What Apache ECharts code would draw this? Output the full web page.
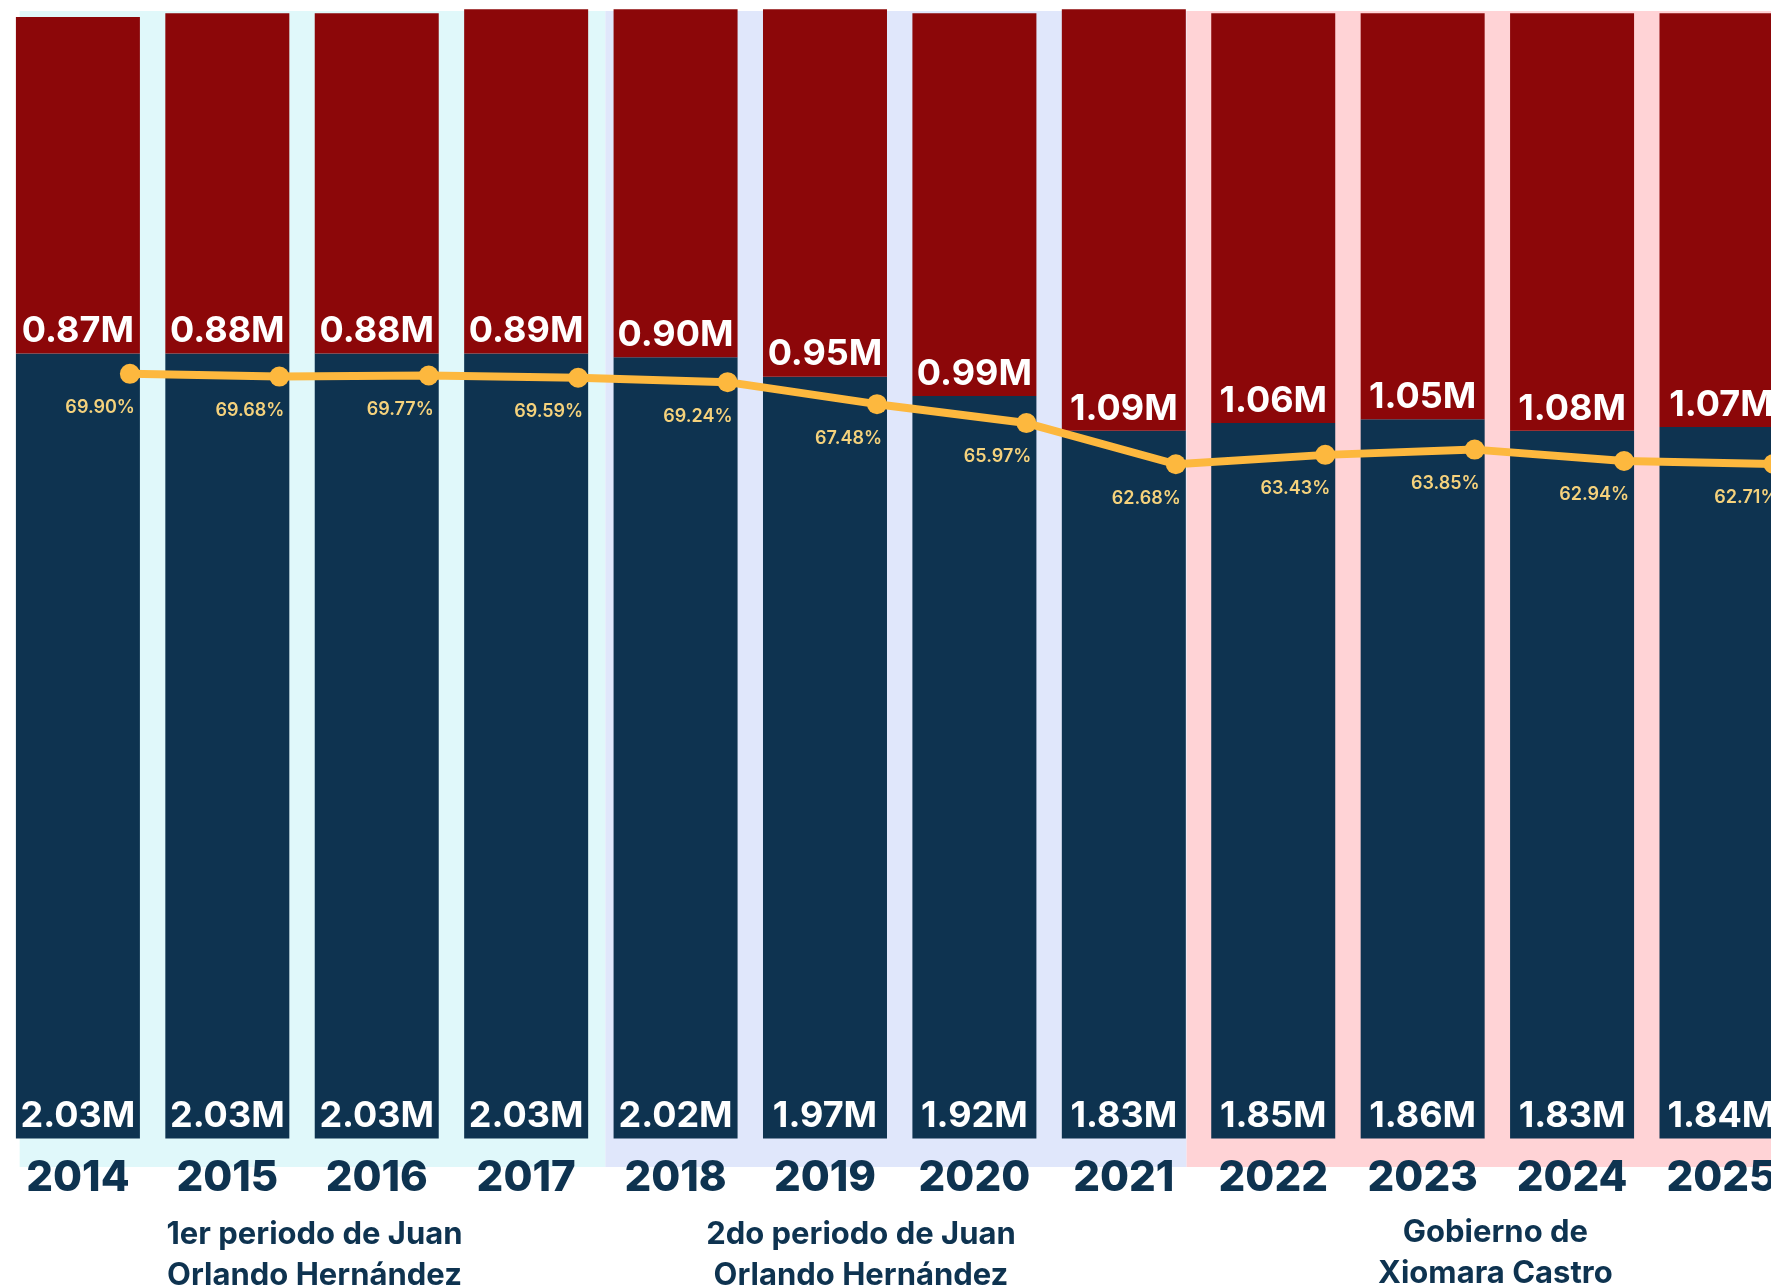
<!DOCTYPE html>
<html><head><meta charset="utf-8">
<script src="https://cdn.jsdelivr.net/npm/echarts@6/dist/echarts.min.js"></script>
<style>html,body{margin:0;padding:0;background:#fff;overflow:hidden;width:1771px;height:1286px}#c{width:1880px;height:1286px}</style>
</head><body><div id="c"></div>
<script>
// ---- data ----
const years = ['2014','2015','2016','2017','2018','2019','2020','2021','2022','2023','2024','2025'];
const ocupados = [2.03,2.03,2.03,2.03,2.02,1.97,1.92,1.83,1.85,1.86,1.83,1.84];
const noOcupados = [0.87,0.88,0.88,0.89,0.90,0.95,0.99,1.09,1.06,1.05,1.08,1.07];
const tasa = [69.90,69.68,69.77,69.59,69.24,67.48,65.97,62.68,63.43,63.85,62.94,62.71];
const periodNames = ['1er periodo de Juan\nOrlando Hernández','2do periodo de Juan\nOrlando Hernández','Gobierno de\nXiomara Castro'];
const periodStart = [2013.61, 2017.53, 2021.42];
const periodEnd = [2017.53, 2021.42, 2025.6];

// ---- styles ----
const NAVY = '#0E3350', RED = '#8C0709', GOLD = '#FDB83E', PCT = '#F5D27C';
const shade = ['#E0F8FA', '#E0E7FB', '#FFD3D6'];
const labelOffsets = [[2,1],[-35,1],[4,-1]];
const FONT = 'Inter';
const GRID_L = 3.2, GRID_W = 1793, BASE_BOTTOM = 147.5;

const chart = echarts.init(document.getElementById('c'), null, {renderer:'canvas'});
const option = {
  animation: false,
  backgroundColor: '#ffffff',
  grid: [
    {left: GRID_L, width: GRID_W, top: 0, bottom: BASE_BOTTOM},
    {left: GRID_L + 52, width: GRID_W, top: 0, bottom: BASE_BOTTOM},
    {left: GRID_L, width: GRID_W, top: 11, bottom: 119}
  ],
  xAxis: [
    {type:'category', gridIndex:0, data: years, z: 10, axisLine:{show:false}, axisTick:{show:false},
     axisLabel:{color: NAVY, fontFamily: FONT, fontWeight: 800, fontSize: 42, margin: 19, interval: 0}},
    {type:'category', gridIndex:1, data: years, show:false},
    {type:'value', gridIndex:2, min: 2013.5, max: 2025.5, show:false}
  ],
  yAxis: [
    {type:'value', gridIndex:0, min:0, max:2.944, show:false},
    {type:'value', gridIndex:1, min:8.83, max:99.76, show:false},
    {type:'value', gridIndex:2, min:0, max:1, show:false}
  ],
  series: [
    {
      type:'line', xAxisIndex:2, yAxisIndex:2, data:[], z:0, silent:true,
      markArea: {
        silent: true,
        data: periodNames.map((n,i)=>[
          {name:n, xAxis: periodStart[i], itemStyle:{color: shade[i]},
           label:{show:true, position:'bottom', distance:46, offset: labelOffsets[i],
             color: NAVY, fontFamily: FONT, fontWeight: 700, fontSize: 31, lineHeight: 41, align:'center'}},
          {xAxis: periodEnd[i]}
        ])
      }
    },
    {
      name:'Ocupados', type:'bar', stack:'t', xAxisIndex:0, yAxisIndex:0, data: ocupados,
      barWidth: 124, itemStyle:{color: NAVY}, z:2,
      label:{show:true, position:'insideBottom', distance:4, color:'#fff', fontFamily: FONT,
        fontWeight:700, fontSize:36, formatter: p => p.value.toFixed(2)+'M'}
    },
    {
      name:'No ocupados', type:'bar', stack:'t', xAxisIndex:0, yAxisIndex:0, data: noOcupados,
      barWidth: 124, itemStyle:{color: RED}, z:2,
      label:{show:true, position:'insideBottom', distance:4, color:'#fff', fontFamily: FONT,
        fontWeight:700, fontSize:36, formatter: p => p.value.toFixed(2)+'M'}
    },
    {
      name:'Tasa', type:'line', xAxisIndex:1, yAxisIndex:1, data: tasa, z:5,
      symbol:'circle', symbolSize:20, lineStyle:{color: GOLD, width:8}, itemStyle:{color: GOLD},
      label:{show:true, position:'bottom', distance:15, align:'right', offset:[5,0], color: PCT,
        fontFamily: FONT, fontWeight:600, fontSize:18, formatter: p => p.value.toFixed(2)+'%'}
    }
  ]
};
chart.setOption(option);
</script></body></html>
